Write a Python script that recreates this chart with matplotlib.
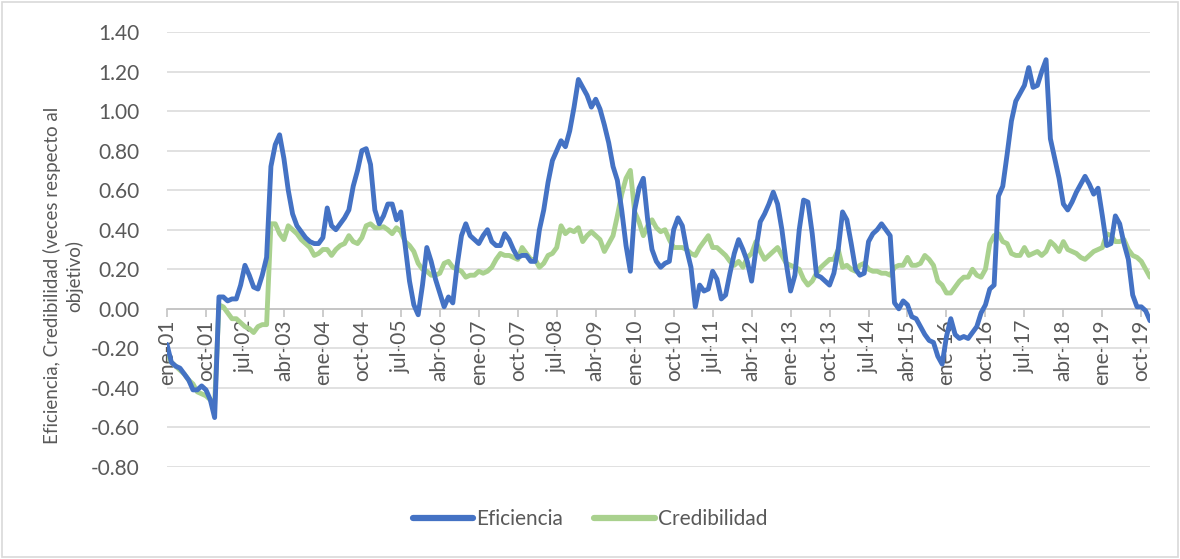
import matplotlib
matplotlib.use("Agg")
import matplotlib.pyplot as plt
from matplotlib.patches import Rectangle
import numpy as np

# Monthly series, ene-01 .. dic-19
eficiencia = [
    -0.18, -0.27, -0.29, -0.30, -0.33, -0.36, -0.41, -0.41, -0.39, -0.41, -0.46, -0.55,  # 2001
    0.06, 0.06, 0.04, 0.05, 0.05, 0.12, 0.22, 0.17, 0.11, 0.10, 0.17, 0.26,  # 2002
    0.72, 0.83, 0.88, 0.76, 0.60, 0.48, 0.42, 0.39, 0.36, 0.34, 0.33, 0.33,  # 2003
    0.36, 0.51, 0.42, 0.40, 0.43, 0.46, 0.50, 0.62, 0.70, 0.80, 0.81, 0.73,  # 2004
    0.50, 0.43, 0.47, 0.53, 0.53, 0.45, 0.49, 0.32, 0.14, 0.02, -0.03, 0.12,  # 2005
    0.31, 0.24, 0.15, 0.08, 0.01, 0.06, 0.03, 0.22, 0.37, 0.43, 0.37, 0.35,  # 2006
    0.33, 0.37, 0.40, 0.34, 0.32, 0.32, 0.38, 0.35, 0.30, 0.26, 0.27, 0.27,  # 2007
    0.24, 0.24, 0.40, 0.50, 0.64, 0.75, 0.80, 0.85, 0.82, 0.90, 1.02, 1.16,  # 2008
    1.12, 1.08, 1.02, 1.06, 1.01, 0.93, 0.84, 0.72, 0.65, 0.50, 0.32, 0.19,  # 2009
    0.50, 0.61, 0.66, 0.45, 0.30, 0.24, 0.21, 0.23, 0.24, 0.40, 0.46, 0.42,  # 2010
    0.30, 0.21, 0.01, 0.12, 0.09, 0.10, 0.19, 0.15, 0.05, 0.07, 0.18, 0.28,  # 2011
    0.35, 0.30, 0.24, 0.14, 0.30, 0.44, 0.48, 0.53, 0.59, 0.53, 0.40, 0.23,  # 2012
    0.09, 0.17, 0.40, 0.55, 0.54, 0.38, 0.17, 0.16, 0.14, 0.12, 0.18, 0.30,  # 2013
    0.49, 0.45, 0.33, 0.20, 0.17, 0.18, 0.34, 0.38, 0.40, 0.43, 0.40, 0.37,  # 2014
    0.03, 0.00, 0.04, 0.02, -0.04, -0.05, -0.09, -0.13, -0.16, -0.17, -0.24, -0.28,  # 2015
    -0.14, -0.05, -0.13, -0.15, -0.14, -0.15, -0.12, -0.09, -0.02, 0.02, 0.10, 0.12,  # 2016
    0.57, 0.62, 0.78, 0.95, 1.05, 1.09, 1.13, 1.22, 1.12, 1.13, 1.20, 1.26,  # 2017
    0.86, 0.76, 0.66, 0.53, 0.50, 0.54, 0.59, 0.63, 0.67, 0.63, 0.58, 0.61,  # 2018
    0.47, 0.32, 0.33, 0.47, 0.43, 0.33, 0.25, 0.07, 0.01, 0.01, -0.01, -0.06,  # 2019
]

credibilidad = [
    -0.23, -0.27, -0.29, -0.31, -0.33, -0.36, -0.38, -0.42, -0.43, -0.44, -0.46, -0.48,  # 2001
    0.02, 0.01, -0.02, -0.05, -0.05, -0.07, -0.09, -0.10, -0.12, -0.09, -0.08, -0.08,  # 2002
    0.43, 0.43, 0.38, 0.35, 0.42, 0.40, 0.38, 0.35, 0.33, 0.31, 0.27, 0.28,  # 2003
    0.30, 0.30, 0.27, 0.30, 0.32, 0.33, 0.37, 0.34, 0.33, 0.36, 0.42, 0.43,  # 2004
    0.41, 0.41, 0.415, 0.40, 0.38, 0.41, 0.39, 0.34, 0.32, 0.29, 0.23, 0.20,  # 2005
    0.19, 0.17, 0.17, 0.18, 0.23, 0.24, 0.21, 0.20, 0.19, 0.16, 0.17, 0.17,  # 2006
    0.19, 0.18, 0.19, 0.21, 0.25, 0.28, 0.27, 0.27, 0.26, 0.25, 0.31, 0.28,  # 2007
    0.25, 0.25, 0.21, 0.23, 0.27, 0.28, 0.31, 0.42, 0.38, 0.40, 0.39, 0.41,  # 2008
    0.34, 0.37, 0.39, 0.37, 0.35, 0.29, 0.33, 0.37, 0.47, 0.58, 0.66, 0.70,  # 2009
    0.49, 0.44, 0.37, 0.42, 0.45, 0.41, 0.39, 0.40, 0.35, 0.31, 0.31, 0.31,  # 2010
    0.30, 0.28, 0.27, 0.31, 0.34, 0.37, 0.31, 0.31, 0.29, 0.27, 0.24, 0.22,  # 2011
    0.24, 0.21, 0.26, 0.28, 0.34, 0.29, 0.25, 0.27, 0.29, 0.31, 0.27, 0.23,  # 2012
    0.22, 0.21, 0.20, 0.15, 0.12, 0.14, 0.18, 0.21, 0.23, 0.25, 0.25, 0.30,  # 2013
    0.21, 0.22, 0.20, 0.19, 0.22, 0.23, 0.20, 0.19, 0.19, 0.18, 0.18, 0.17,  # 2014
    0.21, 0.22, 0.22, 0.26, 0.22, 0.22, 0.23, 0.27, 0.25, 0.22, 0.14, 0.12,  # 2015
    0.08, 0.08, 0.11, 0.14, 0.16, 0.16, 0.20, 0.17, 0.16, 0.20, 0.33, 0.37,  # 2016
    0.38, 0.34, 0.33, 0.28, 0.27, 0.27, 0.31, 0.27, 0.28, 0.29, 0.27, 0.29,  # 2017
    0.34, 0.32, 0.29, 0.34, 0.30, 0.29, 0.28, 0.26, 0.25, 0.27, 0.29, 0.30,  # 2018
    0.31, 0.38, 0.37, 0.34, 0.34, 0.35, 0.30, 0.27, 0.26, 0.24, 0.20, 0.16,  # 2019
]

# category labels shown every 9 months
tick_labels = ['ene-01', 'oct-01', 'jul-02', 'abr-03', 'ene-04', 'oct-04', 'jul-05',
               'abr-06', 'ene-07', 'oct-07', 'jul-08', 'abr-09', 'ene-10', 'oct-10',
               'jul-11', 'abr-12', 'ene-13', 'oct-13', 'jul-14', 'abr-15', 'ene-16',
               'oct-16', 'jul-17', 'abr-18', 'ene-19', 'oct-19']
y_ticks = [-0.8, -0.6, -0.4, -0.2, 0.0, 0.2, 0.4, 0.6, 0.8, 1.0, 1.2, 1.4]

plt.rcParams['font.family'] = ['Lato', 'DejaVu Sans']
text_color = '#595959'
grid_color = '#d9d9d9'

fig = plt.figure(figsize=(11.8, 5.59), dpi=100)
ax = fig.add_axes([167 / 1180, 1 - 467 / 559, (1150 - 167) / 1180, (467 - 32) / 559])

x = np.arange(len(eficiencia))
ax.plot(x, eficiencia, color='#4472C4', lw=3.5, solid_joinstyle='round',
        solid_capstyle='round', label='Eficiencia', zorder=4)
ax.plot(x, credibilidad, color='#A9D18E', lw=3.5, solid_joinstyle='round',
        solid_capstyle='round', label='Credibilidad', zorder=3)

ax.set_xlim(0, len(eficiencia) - 1)
ax.set_ylim(-0.8, 1.4)
ax.set_yticks(y_ticks)
ax.set_yticklabels([f'{v:.2f}' for v in y_ticks])
ax.yaxis.grid(True, color=grid_color, lw=1.1, zorder=0)
ax.set_axisbelow(True)

# horizontal axis crosses at zero
for side in ['top', 'right', 'left']:
    ax.spines[side].set_visible(False)
ax.spines['bottom'].set_position(('data', 0))
ax.spines['bottom'].set_color('#bfbfbf')
ax.spines['bottom'].set_linewidth(1.1)
ax.spines['bottom'].set_zorder(1)

ax.set_xticks(np.arange(0, len(eficiencia), 9))
ax.set_xticklabels(tick_labels, rotation=90)
ax.tick_params(axis='x', direction='out', length=6, width=1.1, color='#bfbfbf',
               labelsize=15, labelcolor=text_color, pad=2)
ax.tick_params(axis='y', length=0, labelsize=15, labelcolor=text_color, pad=20)
for lbl in ax.get_xticklabels():
    lbl.set_zorder(2)

ax.set_ylabel('Eficiencia, Credibilidad (veces respecto al\nobjetivo)',
              fontsize=13.5, color=text_color, linespacing=1.3)
ax.yaxis.set_label_coords(-0.085, 0.44)

leg = fig.legend(loc='center', bbox_to_anchor=(590 / 1180, 1 - 519 / 559), ncol=2,
                 frameon=False, fontsize=15, handlelength=2.9, handletextpad=0.15,
                 columnspacing=1.5, labelcolor=text_color)
for h in leg.get_lines():
    h.set_linewidth(4.5)

# chart area border
fig.patches.append(Rectangle((0.002, 0.003), 0.996, 0.994, transform=fig.transFigure,
                             fill=False, edgecolor='#d9d9d9', lw=1.2))

fig.savefig('out.png', dpi=100)
